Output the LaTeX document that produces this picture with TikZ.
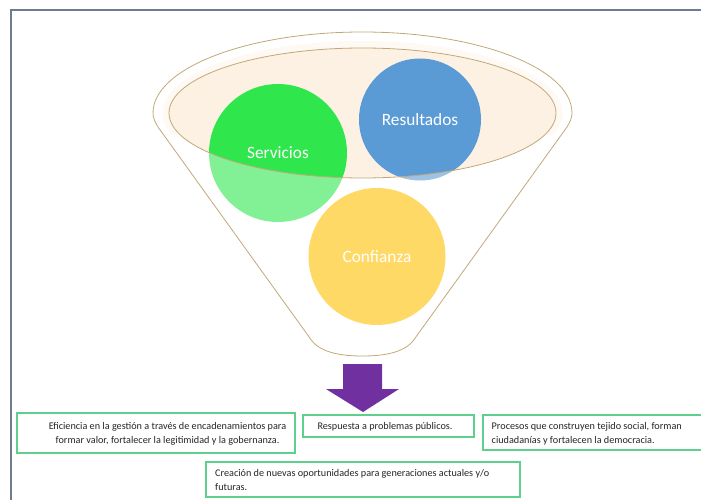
\documentclass[tikz,border=0pt]{standalone}
\usepackage{fontspec}
\setmainfont{Carlito}
\begin{document}
\begin{tikzpicture}[x=1pt,y=-1pt,
  frame/.style={draw=frameC,line width=1.3pt},
  rim/.style={draw=rimC,line width=0.8pt},
  ball/.style={circle,inner sep=0pt,text=white,font=\fontsize{17.3}{20}\selectfont},
  box/.style={draw=boxC,line width=1.5pt,fill=white,rectangle,inner sep=0pt},
  txt/.style={inner sep=0pt,text=txtC,font=\fontsize{10.2}{13.8}\selectfont}]
\definecolor{frameC}{HTML}{6E7B91}
\definecolor{rimC}{HTML}{C2A878}
\definecolor{peach}{HTML}{FDF1E3}
\definecolor{halo}{HTML}{FEF6EC}
\definecolor{greenC}{HTML}{30E64D}
\definecolor{blueC}{HTML}{5B9BD5}
\definecolor{goldC}{HTML}{FFC000}
\definecolor{purpleC}{HTML}{7030A0}
\definecolor{boxC}{HTML}{5FCF8D}
\definecolor{txtC}{HTML}{262626}
\useasboundingbox (0,0) rectangle (701,500);

% page frame
\coordinate (fa) at (11,500);
\coordinate (fb) at (11,10);
\coordinate (fc) at (701,10);
\draw[frame] (fa) -- (fb) -- (fc);

% funnel mouth: glow (upper part only) and inner ellipse
\coordinate (mouth) at (362.5,113);
\begin{scope}
  \clip (140,20) rectangle (590,135);
  \fill[halo] (mouth) ellipse [x radius=200pt, y radius=72pt];
\end{scope}
\fill[peach] (mouth) ellipse [x radius=193.5pt, y radius=65pt];

% the three balls
\node[ball,fill=greenC,minimum size=138pt] (serv) at (278,153) {Servicios};
\node[ball,fill=blueC,minimum size=122pt] (res) at (420,119.5) {Resultados};
\node[ball,fill=goldC,minimum size=137pt] (conf) at (377,256.5) {Confianza};

% translucent front face of the funnel
\fill[white,opacity=0.4,even odd rule]
  (153,113) .. controls (153,68.3) and (246.8,32) .. (362.5,32)
  .. controls (478.2,32) and (572,68.3) .. (572,113)
  .. controls (572,118) and (570,122) .. (567,127)
  -- (413,341)
  .. controls (403,353) and (383,356) .. (362.5,356)
  .. controls (342,356) and (322,353) .. (312,341)
  -- (158,127)
  .. controls (155,122) and (153,118) .. (153,113) -- cycle
  (mouth) ellipse [x radius=193.5pt, y radius=65pt];

% outlines
\draw[rim] (mouth) ellipse [x radius=193.5pt, y radius=65pt];
\draw[rim]
  (153,113) .. controls (153,68.3) and (246.8,32) .. (362.5,32)
  .. controls (478.2,32) and (572,68.3) .. (572,113)
  .. controls (572,118) and (570,122) .. (567,127)
  -- (413,341)
  .. controls (403,353) and (383,356) .. (362.5,356)
  .. controls (342,356) and (322,353) .. (312,341)
  -- (158,127)
  .. controls (155,122) and (153,118) .. (153,113) -- cycle;

% down arrow
\fill[purpleC] (343,364) -- (382,364) -- (382,389) -- (399,389) -- (363,412)
  -- (326,389) -- (343,389) -- cycle;

% result boxes
\node[box,minimum width=278pt,minimum height=40pt] (b1) at (156,433) {};
\node[txt,align=center] (t1) at (167.5,434)
  {Eficiencia en la gestión a través de encadenamientos para\\
   formar valor, fortalecer la legitimidad y la gobernanza.};

\node[box,minimum width=171pt,minimum height=22pt] (b2) at (388.5,426) {};
\node[txt] (t2) at (385,426.5) {Respuesta a problemas públicos.};

\node[box,minimum width=223pt,minimum height=35pt] (b3) at (594.5,432.5) {};
\node[txt,align=left,anchor=west] (t3) at (491.5,433.5)
  {Procesos que construyen tejido social, forman\\
   ciudadanías y fortalecen la democracia.};

\node[box,minimum width=314pt,minimum height=35pt] (b4) at (363,479.5) {};
\node[txt,align=left,anchor=west] (t4) at (215,480)
  {Creación de nuevas oportunidades para generaciones actuales y/o\\
   futuras.};
\end{tikzpicture}
\end{document}
